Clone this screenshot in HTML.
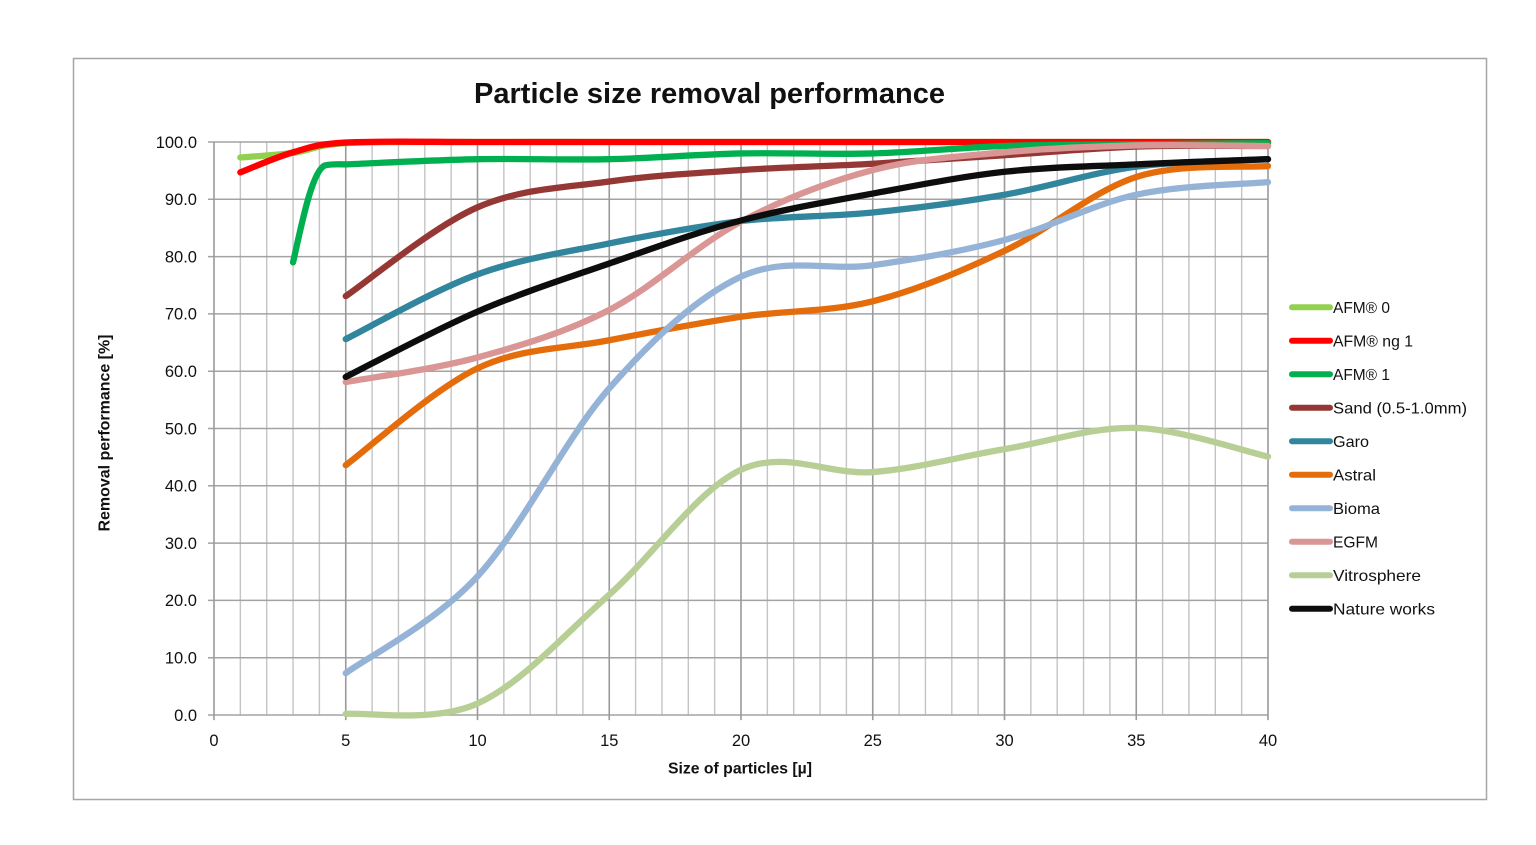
<!DOCTYPE html>
<html>
<head>
<meta charset="utf-8">
<style>
html,body{margin:0;padding:0;background:#fff;}
svg{display:block;}
text{font-family:"Liberation Sans",Arial,sans-serif;fill:#111;}
</style>
</head>
<body>
<svg id="chart" width="1536" height="845" viewBox="0 0 1536 845" xmlns="http://www.w3.org/2000/svg">
<rect x="0" y="0" width="1536" height="845" fill="#fff"/>
<rect x="73.5" y="58.5" width="1413" height="741" fill="none" stroke="#a6a6a6" stroke-width="1.5"/>

<text x="474" y="103" font-size="29" font-weight="bold" textLength="471" lengthAdjust="spacingAndGlyphs">Particle size removal performance</text>

<!-- grid in data units -->
<g transform="translate(214,715) scale(26.35,-5.73)">
  <path fill="none" stroke="#c4c4c4" stroke-width="1.4" vector-effect="non-scaling-stroke"
    d="M1,0V100M2,0V100M3,0V100M4,0V100M6,0V100M7,0V100M8,0V100M9,0V100M11,0V100M12,0V100M13,0V100M14,0V100M16,0V100M17,0V100M18,0V100M19,0V100M21,0V100M22,0V100M23,0V100M24,0V100M26,0V100M27,0V100M28,0V100M29,0V100M31,0V100M32,0V100M33,0V100M34,0V100M36,0V100M37,0V100M38,0V100M39,0V100"/>
  <path fill="none" stroke="#a3a3a3" stroke-width="1.5" vector-effect="non-scaling-stroke"
    d="M-0.23,0H40M-0.23,10H40M-0.23,20H40M-0.23,30H40M-0.23,40H40M-0.23,50H40M-0.23,60H40M-0.23,70H40M-0.23,80H40M-0.23,90H40M-0.23,100H40"/>
  <path fill="none" stroke="#9a9a9a" stroke-width="1.6" vector-effect="non-scaling-stroke"
    d="M0,-0.9V100M5,-0.9V100M10,-0.9V100M15,-0.9V100M20,-0.9V100M25,-0.9V100M30,-0.9V100M35,-0.9V100M40,-0.9V100"/>

  <g id="series" fill="none" stroke-width="6.3" stroke-linecap="round" stroke-linejoin="round">
    <path class="sm" stroke="#92D050" stroke-width="6.3" vector-effect="non-scaling-stroke" d="M1,97.3 L3,98.1 L5,99.8 L10,100 L15,100 L20,100 L25,100 L30,100 L35,100 L40,100"/>
    <path class="sm" stroke="#FF0000" stroke-width="6.3" vector-effect="non-scaling-stroke" d="M1,94.7 L3,98.2 L5,99.9 L10,100 L15,100 L20,100 L25,100 L30,100 L35,100 L40,100"/>
    <path stroke="#00B050" stroke-width="6.3" vector-effect="non-scaling-stroke" d="M3,79 C3.3,85 3.7,94.8 4.2,95.9 C4.45,96.2 4.7,96.1 5,96.1"/>
    <path class="sm" stroke="#00B050" stroke-width="6.3" vector-effect="non-scaling-stroke" d="M5,96.1 L10,97 L15,97 L20,98 L25,98 L30,99.3 L35,99.6 L40,99.8"/>
    <path class="sm" stroke="#953735" stroke-width="6.3" vector-effect="non-scaling-stroke" d="M5,73.1 L10,88.6 L15,93.1 L20,95.1 L25,96.2 L30,97.7 L35,99.2 L40,99.3"/>
    <path class="sm" stroke="#31859C" stroke-width="6.3" vector-effect="non-scaling-stroke" d="M5,65.6 L10,76.9 L15,82.3 L20,86.2 L25,87.7 L30,90.8 L35,95.7 L40,97"/>
    <path class="sm" stroke="#E46C0A" stroke-width="6.3" vector-effect="non-scaling-stroke" d="M5,43.6 L10,60.5 L15,65.4 L20,69.5 L25,72.2 L30,81 L35,93.9 L40,95.8"/>
    <path class="sm" stroke="#95B3D7" stroke-width="6.3" vector-effect="non-scaling-stroke" d="M5,7.3 L10,24.2 L15,57 L20,76.5 L25,78.5 L30,82.9 L35,90.8 L40,93"/>
    <path class="sm" stroke="#D99694" stroke-width="6.3" vector-effect="non-scaling-stroke" d="M5,58.1 L10,62.4 L15,70.7 L20,86.1 L25,95.1 L30,98.2 L35,99.4 L40,99.3"/>
    <path class="sm" stroke="#B7CF95" stroke-width="6.3" vector-effect="non-scaling-stroke" d="M5,0.2 L10,2 L15,21 L20,42.8 L25,42.4 L30,46.4 L35,50.1 L40,45.1"/>
    <path class="sm" stroke="#0d0d0d" stroke-width="6.3" vector-effect="non-scaling-stroke" d="M5,59 L10,70.4 L15,78.8 L20,86.3 L25,91 L30,94.8 L35,96.1 L40,97"/>
  </g>
</g>

<!-- Y labels -->
<g font-size="16.5" text-anchor="end">
  <text x="197" y="147.8">100.0</text>
  <text x="197" y="205.1">90.0</text>
  <text x="197" y="262.4">80.0</text>
  <text x="197" y="319.7">70.0</text>
  <text x="197" y="377">60.0</text>
  <text x="197" y="434.3">50.0</text>
  <text x="197" y="491.6">40.0</text>
  <text x="197" y="548.9">30.0</text>
  <text x="197" y="606.2">20.0</text>
  <text x="197" y="663.5">10.0</text>
  <text x="197" y="720.8">0.0</text>
</g>

<!-- X labels -->
<g font-size="16.5" text-anchor="middle">
  <text x="214" y="746">0</text>
  <text x="345.75" y="746">5</text>
  <text x="477.5" y="746">10</text>
  <text x="609.25" y="746">15</text>
  <text x="741" y="746">20</text>
  <text x="872.75" y="746">25</text>
  <text x="1004.5" y="746">30</text>
  <text x="1136.25" y="746">35</text>
  <text x="1268" y="746">40</text>
</g>

<text x="668" y="773.5" font-size="15.5" font-weight="bold" textLength="144" lengthAdjust="spacingAndGlyphs">Size of particles [µ]</text>
<text transform="translate(109.5,433) rotate(-90)" text-anchor="middle" font-size="15.5" font-weight="bold" textLength="197" lengthAdjust="spacingAndGlyphs">Removal performance [%]</text>

<!-- Legend -->
<g stroke-width="6" stroke-linecap="round">
  <line x1="1292" y1="307.3" x2="1330" y2="307.3" stroke="#92D050"/>
  <line x1="1292" y1="340.8" x2="1330" y2="340.8" stroke="#FF0000"/>
  <line x1="1292" y1="374.3" x2="1330" y2="374.3" stroke="#00B050"/>
  <line x1="1292" y1="407.8" x2="1330" y2="407.8" stroke="#953735"/>
  <line x1="1292" y1="441.3" x2="1330" y2="441.3" stroke="#31859C"/>
  <line x1="1292" y1="474.8" x2="1330" y2="474.8" stroke="#E46C0A"/>
  <line x1="1292" y1="508.3" x2="1330" y2="508.3" stroke="#95B3D7"/>
  <line x1="1292" y1="541.8" x2="1330" y2="541.8" stroke="#D99694"/>
  <line x1="1292" y1="575.3" x2="1330" y2="575.3" stroke="#B7CF95"/>
  <line x1="1292" y1="608.8" x2="1330" y2="608.8" stroke="#0d0d0d"/>
</g>
<g font-size="16">
  <text x="1333" y="313" textLength="57" lengthAdjust="spacingAndGlyphs">AFM® 0</text>
  <text x="1333" y="346.5" textLength="80" lengthAdjust="spacingAndGlyphs">AFM® ng 1</text>
  <text x="1333" y="380" textLength="57" lengthAdjust="spacingAndGlyphs">AFM® 1</text>
  <text x="1333" y="413.5" textLength="134" lengthAdjust="spacingAndGlyphs">Sand (0.5-1.0mm)</text>
  <text x="1333" y="447" textLength="36" lengthAdjust="spacingAndGlyphs">Garo</text>
  <text x="1333" y="480.5" textLength="43" lengthAdjust="spacingAndGlyphs">Astral</text>
  <text x="1333" y="514" textLength="47" lengthAdjust="spacingAndGlyphs">Bioma</text>
  <text x="1333" y="547.5" textLength="45" lengthAdjust="spacingAndGlyphs">EGFM</text>
  <text x="1333" y="581" textLength="88" lengthAdjust="spacingAndGlyphs">Vitrosphere</text>
  <text x="1333" y="614.5" textLength="102" lengthAdjust="spacingAndGlyphs">Nature works</text>
</g>
</svg>
<script>
(function(){
  var paths=document.querySelectorAll('#series path.sm');
  for(var k=0;k<paths.length;k++){
    var p=paths[k];
    var nums=p.getAttribute('d').match(/-?\d+(\.\d+)?/g).map(Number);
    var P=[];
    for(var i=0;i<nums.length;i+=2)P.push([nums[i],nums[i+1]]);
    var s='M'+P[0][0]+','+P[0][1];
    for(var i=0;i<P.length-1;i++){
      var p0=P[i-1]||P[i],p1=P[i],p2=P[i+1],p3=P[i+2]||P[i+1];
      var c1=[p1[0]+(p2[0]-p0[0])/6,p1[1]+(p2[1]-p0[1])/6];
      var c2=[p2[0]-(p3[0]-p1[0])/6,p2[1]-(p3[1]-p1[1])/6];
      s+=' C'+c1[0].toFixed(3)+','+c1[1].toFixed(3)+' '+c2[0].toFixed(3)+','+c2[1].toFixed(3)+' '+p2[0]+','+p2[1];
    }
    p.setAttribute('d',s);
  }
})();
</script>
</body>
</html>
